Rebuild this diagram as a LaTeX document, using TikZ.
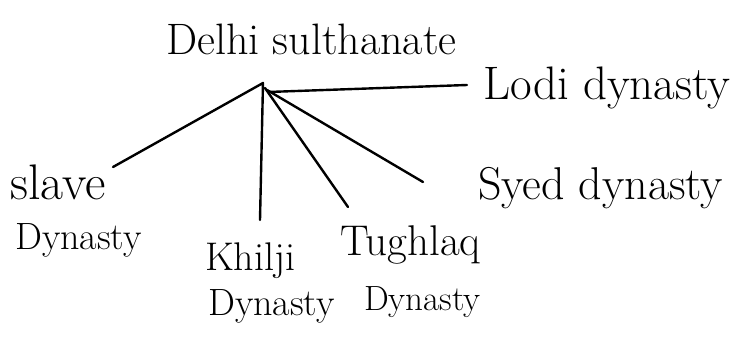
\documentclass[tikz,border=0pt]{standalone}
\begin{document}
\begin{tikzpicture}[x=1pt,y=-1pt,
  lbl/.style={inner sep=0pt, anchor=base west},
  fs/.style={font=\fontsize{#1}{#1}\selectfont},
  pen/.style={line width=2.4pt, line cap=round, line join=round}]
\useasboundingbox (0,0) rectangle (740,350);
% labels
\node[lbl,fs=44] (title) at (166,55) {Delhi sulthanate};
\node[lbl,fs=47] (lodi) at (483,100) {Lodi dynasty};
\node[lbl,fs=46] (syed) at (478,200) {Syed dynasty};
\node[lbl,fs=50] (slave) at (10,200) {slave};
\node[lbl,fs=38] (slaveb) at (15,250) {Dynasty};
\node[lbl,fs=40] (khilji) at (205,270) {Khilji};
\node[lbl,fs=38] (khiljib) at (208,316) {Dynasty};
\node[lbl,fs=43] (tughlaq) at (340,256) {Tughlaq};
\node[lbl,fs=35] (tughlaqb) at (364,310) {Dynasty};
% junction and connector ends
\coordinate (j) at (263,83);
\coordinate (jt) at (265,88);
\coordinate (js) at (267,90);
\coordinate (jl) at (268,92);
\coordinate (eslave) at (113,167);
\coordinate (ekhilji) at (260,220);
\coordinate (etughlaq) at (348,207);
\coordinate (esyed) at (423,182);
\coordinate (elodi) at (467,85);
\draw[pen] (eslave) -- (j) -- (ekhilji);
\draw[pen] (jt) -- (etughlaq);
\draw[pen] (js) -- (esyed);
\draw[pen] (jl) -- (elodi);
\end{tikzpicture}
\end{document}
